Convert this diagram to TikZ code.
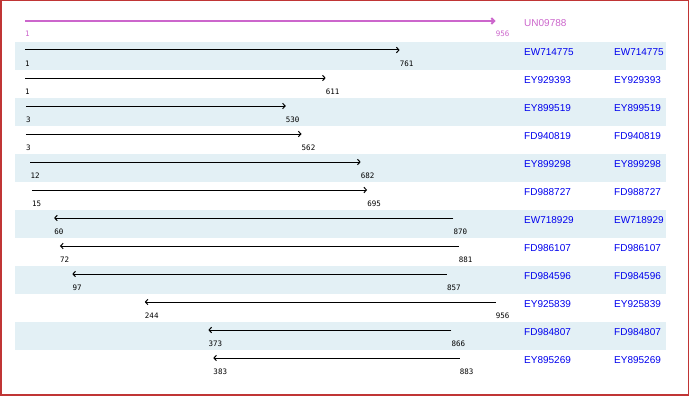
\documentclass[tikz,border=0pt]{standalone}
\usepackage{fontspec}
\usetikzlibrary{arrows.meta}
\newfontfamily\lblfont{Liberation Sans}
\newfontfamily\numfont{DejaVu Sans Mono}
\definecolor{bandc}{HTML}{E3F0F5}
\definecolor{qmag}{HTML}{CC66CC}
\definecolor{lblblue}{HTML}{0000EE}
\definecolor{frame}{HTML}{C03535}
\begin{document}
\begin{tikzpicture}[x=1pt,y=-1pt,
  hitline/.style={line width=1pt,draw=black,-{Straight Barb[length=2.5pt,width=5.5pt]}},
  qline/.style={line width=2pt,draw=qmag,-{Straight Barb[length=3pt,width=6pt]}},
  numlbl/.style={anchor=west,inner sep=0pt,font=\numfont\fontsize{7.5}{8}\selectfont},
  acclbl/.style={anchor=west,inner sep=0pt,font=\lblfont\fontsize{10}{12}\selectfont,text=lblblue},
  band/.style={fill=bandc,draw=none}]
\useasboundingbox (0,0) rectangle (690,396);
\fill[white] (0,0) rectangle (690,396);
% bands
\foreach \i in {1,3,5,7,9,11}{
  \pgfmathsetmacro\yy{22+28*\i}
  \fill[band] (15,\yy-8) rectangle (665.7,\yy+20);
}
% query
\coordinate (qs) at (25,21);
\coordinate (qe) at (495.7,21);
\draw[qline] (qs) -- (qe);
\node[numlbl,text=qmag] (qn1) at (25,34) {1};
\node[numlbl,text=qmag] (qn2) at (495.7,34) {956};
\node[acclbl,text=qmag] (ql) at (524,23) {UN09788};
% forward hits
\foreach \i/\nm/\a/\b in {1/EW714775/1/761,2/EY929393/1/611,3/EY899519/3/530,4/FD940819/3/562,5/EY899298/12/682,6/FD988727/15/695}{
  \pgfmathsetmacro\yy{22+28*\i}
  \pgfmathsetmacro\xa{25+(\a-1)*0.4929}
  \pgfmathsetmacro\xb{25+(\b-1)*0.4929}
  \coordinate (s\i) at (\xa,\yy);
  \coordinate (e\i) at (\xb,\yy);
  \draw[hitline] (s\i) -- (e\i);
  \node[numlbl] (na\i) at (\xa,\yy+13.5) {\a};
  \node[numlbl] (nb\i) at (\xb,\yy+13.5) {\b};
  \node[acclbl] (la\i) at (524,\yy+2) {\nm};
  \node[acclbl] (lb\i) at (614,\yy+2) {\nm};
}
% reverse hits
\foreach \i/\nm/\a/\b in {7/EW718929/60/870,8/FD986107/72/881,9/FD984596/97/857,10/EY925839/244/956,11/FD984807/373/866,12/EY895269/383/883}{
  \pgfmathsetmacro\yy{22+28*\i}
  \pgfmathsetmacro\xa{25+(\a-1)*0.4929}
  \pgfmathsetmacro\xb{25+(\b-1)*0.4929}
  \coordinate (s\i) at (\xa,\yy);
  \coordinate (e\i) at (\xb,\yy);
  \draw[hitline] (e\i) -- (s\i);
  \node[numlbl] (na\i) at (\xa,\yy+13.5) {\a};
  \node[numlbl] (nb\i) at (\xb,\yy+13.5) {\b};
  \node[acclbl] (la\i) at (524,\yy+2) {\nm};
  \node[acclbl] (lb\i) at (614,\yy+2) {\nm};
}
% frame
\draw[frame,line width=1.5pt] (0.75,0.75) rectangle (688.5,394.8);
\end{tikzpicture}
\end{document}
